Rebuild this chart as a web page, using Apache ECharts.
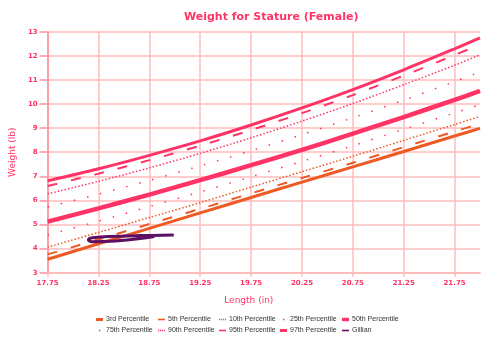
<!DOCTYPE html>
<html>
<head>
<meta charset="utf-8">
<script src="https://cdn.jsdelivr.net/npm/echarts@6/dist/echarts.min.js"></script>
<style>
  html, body { margin: 0; padding: 0; background: #ffffff; }
  #chart { width: 500px; height: 347px; }
</style>
</head>
<body>
<div id="chart"></div>
<script>
// Length (in) at which the percentile curves are tabulated
const lengthIn = [17.75, 18.25, 18.75, 19.25, 19.75, 20.25, 20.75, 21.25, 21.75, 22.0];

// Weight (lb) for each percentile curve
const p3  = [3.56, 4.20, 4.84, 5.48, 6.12, 6.76, 7.39, 8.03, 8.67, 8.99];
const p5  = [3.76, 4.38, 5.02, 5.65, 6.29, 6.93, 7.56, 8.21, 8.86, 9.18];
const p10 = [4.06, 4.67, 5.29, 5.91, 6.55, 7.19, 7.83, 8.49, 9.15, 9.48];
const p25 = [4.56, 5.14, 5.74, 6.35, 6.98, 7.62, 8.27, 8.95, 9.63, 9.98];
const p50 = [5.12, 5.67, 6.24, 6.84, 7.46, 8.10, 8.77, 9.46, 10.17, 10.54];
const p75 = [5.73, 6.26, 6.83, 7.43, 8.06, 8.73, 9.43, 10.16, 10.93, 11.33];
const p90 = [6.27, 6.79, 7.35, 7.95, 8.60, 9.29, 10.02, 10.80, 11.61, 12.04];
const p95 = [6.60, 7.11, 7.67, 8.27, 8.92, 9.62, 10.37, 11.18, 12.03, 12.47];
const p97 = [6.81, 7.31, 7.87, 8.47, 9.13, 9.84, 10.60, 11.42, 12.29, 12.74];

// Gillian's measurements, in the order they were taken
const gillianLength = [18.99, 18.66, 18.34, 18.19, 18.15, 18.20, 18.37, 18.62, 18.80];
const gillianWeight = [4.56, 4.54, 4.50, 4.45, 4.36, 4.28, 4.30, 4.40, 4.50];

// Axis setup
const xStart = 17.75;      // first length tick
const xEnd = 22.0;
const xStep = 0.5;
const yMin = 3, yMax = 13, yStep = 1;

const legendNames = [
  '3rd Percentile', '5th Percentile', '10th Percentile', '25th Percentile', '50th Percentile',
  '75th Percentile', '90th Percentile', '95th Percentile', '97th Percentile', 'Gillian'
];

const ORANGE = '#ee5a24';
const PINK = '#ff3366';
const PURPLE = '#5e0f63';
const LABEL = '#ff3366';
const GRID = '#ffbcbc';

// Legend swatches drawn in a 7x4 box: solid bars of several weights, dots and dotted bars
const BOX = 'M0,0M7,4';
const ICON_THICK = 'path://' + BOX + 'M0,0.5h7v3h-7z';
const ICON_HEAVY = 'path://' + BOX + 'M0,0.3h7v3.4h-7z';
const ICON_THIN = 'path://' + BOX + 'M0,1.2h7v1.6h-7z';
const ICON_DOT = 'path://' + BOX + 'M3,1.3h1.4v1.4h-1.4z';
const ICON_DOTTED = 'path://' + BOX +
  'M0,1.3h1.2v1.4h-1.2z M2,1.3h1.2v1.4h-1.2z M4,1.3h1.2v1.4h-1.2z M6,1.3h1v1.4h-1z';
const legendIcons = [
  ICON_THICK, ICON_THIN, ICON_DOTTED, ICON_DOT, ICON_HEAVY,
  ICON_DOT, ICON_DOTTED, ICON_THIN, ICON_THICK, ICON_THIN
];

// The x axis counts from the first tick, so lengths are placed relative to it.
const pairs = (xs, ys) => xs.map((x, i) => [x - xStart, ys[i]]);

function curve(name, values, color, width, type) {
  return {
    name: name,
    type: 'line',
    data: pairs(lengthIn, values),
    symbol: 'none',
    smooth: 0.3,
    lineStyle: { color: color, width: width, type: type || 'solid', cap: 'butt' },
    itemStyle: { color: color },
    emphasis: { disabled: true },
    silent: true,
    z: 3
  };
}

const series = [
  curve('3rd Percentile', p3, ORANGE, 3),
  curve('5th Percentile', p5, ORANGE, 2, [10, 14]),
  curve('10th Percentile', p10, ORANGE, 1.5, [1.5, 2]),
  curve('25th Percentile', p25, PINK, 1.5, [1.5, 12]),
  curve('50th Percentile', p50, PINK, 4.5),
  curve('75th Percentile', p75, PINK, 1.5, [1.5, 12]),
  curve('90th Percentile', p90, PINK, 1.5, [1.5, 2]),
  curve('95th Percentile', p95, PINK, 2, [10, 14]),
  curve('97th Percentile', p97, PINK, 3),
  {
    name: 'Gillian',
    type: 'line',
    data: pairs(gillianLength, gillianWeight),
    symbol: 'none',
    smooth: 0.4,
    lineStyle: { color: PURPLE, width: 3 },
    itemStyle: { color: PURPLE },
    silent: true,
    z: 5
  }
];

// Legend laid out in fixed columns, two rows
const colLeft = [96, 158, 219, 280, 342];
const rowTop = [316, 327];
const legends = legendNames.map((name, i) => ({
  data: [{ name: name, icon: legendIcons[i] }],
  left: colLeft[i % 5],
  top: rowTop[Math.floor(i / 5)],
  itemWidth: 7,
  itemHeight: 4,
  itemGap: 0,
  padding: 0,
  selectedMode: false,
  itemStyle: { borderWidth: 0 },
  textStyle: { fontFamily: 'Liberation Sans', fontSize: 7, color: '#333333', padding: [0, 0, 0, -2] }
}));

const chart = echarts.init(document.getElementById('chart'), null, { renderer: 'canvas' });
chart.setOption({
  animation: false,
  backgroundColor: '#ffffff',
  title: {
    text: 'Weight for Stature (Female)',
    left: 179,
    top: 7,
    textStyle: { fontFamily: 'DejaVu Sans', fontWeight: 'bold', fontSize: 11, color: PINK }
  },
  legend: legends,
  grid: { left: 46.7, right: 20, top: 31.7, bottom: 74.3, containLabel: false },
  xAxis: {
    type: 'value',
    min: 0,
    max: xEnd - xStart,
    interval: xStep,
    name: 'Length (in)',
    nameLocation: 'middle',
    nameGap: 23,
    nameTextStyle: { fontFamily: 'DejaVu Sans', fontSize: 9, color: PINK, padding: [0, 30, 0, 0] },
    axisLine: { show: true, lineStyle: { color: GRID, width: 2 } },
    axisTick: { show: true, length: 4, lineStyle: { color: GRID, width: 1.5 } },
    axisLabel: {
      color: LABEL, fontFamily: 'DejaVu Sans', fontWeight: 'bold', fontSize: 7, margin: 7,
      showMaxLabel: false,
      formatter: v => (v + xStart).toFixed(2)
    },
    splitLine: { show: true, showMaxLine: false, lineStyle: { color: GRID, width: 1.5 } }
  },
  yAxis: {
    type: 'value',
    min: yMin,
    max: yMax,
    interval: yStep,
    name: 'Weight (lb)',
    nameLocation: 'middle',
    nameGap: 30,
    nameTextStyle: { fontFamily: 'DejaVu Sans', fontSize: 9, color: PINK },
    axisLine: { show: true, lineStyle: { color: '#ff8fa0', width: 1.5 } },
    axisTick: { show: true, length: 8, lineStyle: { color: '#ff8fa0', width: 1.5 } },
    axisLabel: { color: LABEL, fontFamily: 'DejaVu Sans', fontWeight: 'bold', fontSize: 7, margin: 10 },
    splitLine: { show: true, lineStyle: { color: GRID, width: 1.5 } }
  },
  series: series
});
</script>
</body>
</html>
